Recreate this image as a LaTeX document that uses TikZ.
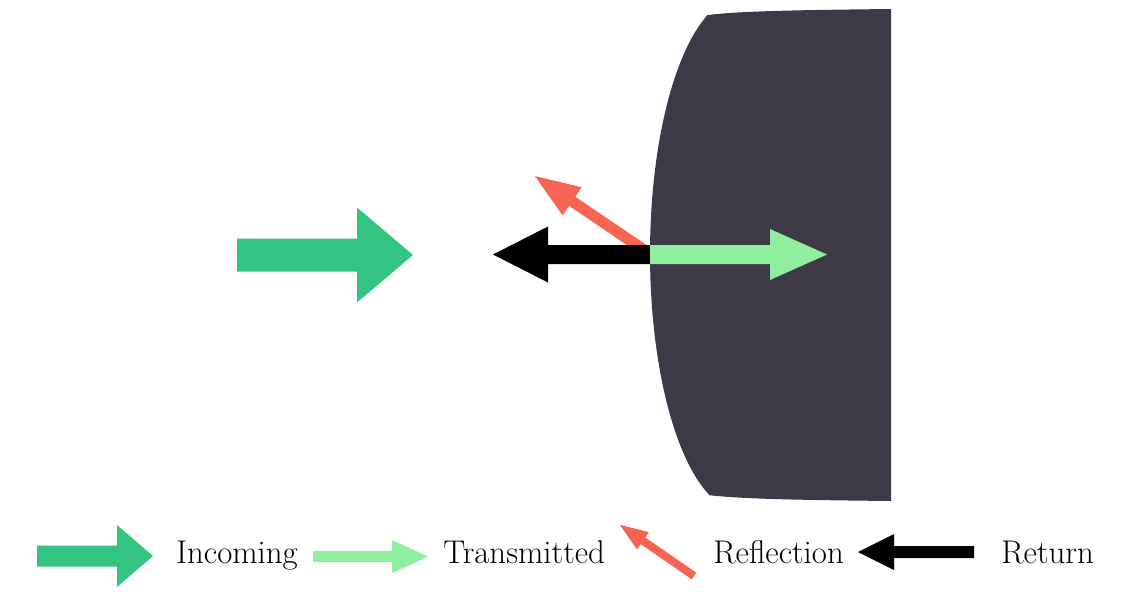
\documentclass[tikz,border=0pt]{standalone}
\usetikzlibrary{calc}
\definecolor{slab}{HTML}{3D3947}
\definecolor{incol}{HTML}{33C481}
\definecolor{trcol}{HTML}{90EE9F}
\definecolor{rfcol}{HTML}{F86452}
\newcommand\fatarrow[8]{% style, x, y, angle, length, shaft hw, head hw, head length
  \fill[#1, shift={(#2,#3)}, rotate=#4]
    (0,-#6) -- ({#5-#8},-#6) -- ({#5-#8},-#7) -- (#5,0) -- ({#5-#8},#7) -- ({#5-#8},#6) -- (0,#6) -- cycle;}
\tikzset{
  legendtext/.style={anchor=base west, inner sep=0pt, font=\fontsize{18.7}{22}\selectfont, text=black},
}
\begin{document}
\begin{tikzpicture}[x=0.02cm, y=-0.02cm]
\useasboundingbox (0,0) rectangle (1129,606);
% medium (slab)
\fill[slab] (891,9) .. controls (800,10) and (740,11) .. (708,15)
  -- plot[domain=-68.4:69.7, samples=80, smooth] ({741-91*cos(\x)},{254+257*sin(\x)})
  -- (708,495) .. controls (740,499) and (800,500) .. (891,501) -- cycle;
% main arrows
\fatarrow{incol}{237}{255}{0}{176}{16.5}{47.5}{56}
\fatarrow{rfcol}{650}{254}{145.9}{139}{5.5}{17}{45}
\fatarrow{black}{650}{254.5}{180}{157}{9.5}{28}{55}
\fatarrow{trcol}{650}{254.5}{0}{177}{9.5}{25.5}{57}
% legend
\fatarrow{incol}{37}{556}{0}{116}{10.5}{31}{36}
\node[legendtext] (lin) at (176,563) {Incoming};
\fatarrow{trcol}{313}{556.5}{0}{115}{5.5}{16.5}{36}
\node[legendtext] (ltr) at (443,563) {Transmitted};
\fatarrow{rfcol}{694}{576}{145.4}{90}{4}{10.5}{28}
\node[legendtext] (lrf) at (713,563) {Reflection};
\fatarrow{black}{974}{552}{180}{116}{6}{18}{36}
\node[legendtext] (lre) at (1001,563) {Return};
\end{tikzpicture}
\end{document}
